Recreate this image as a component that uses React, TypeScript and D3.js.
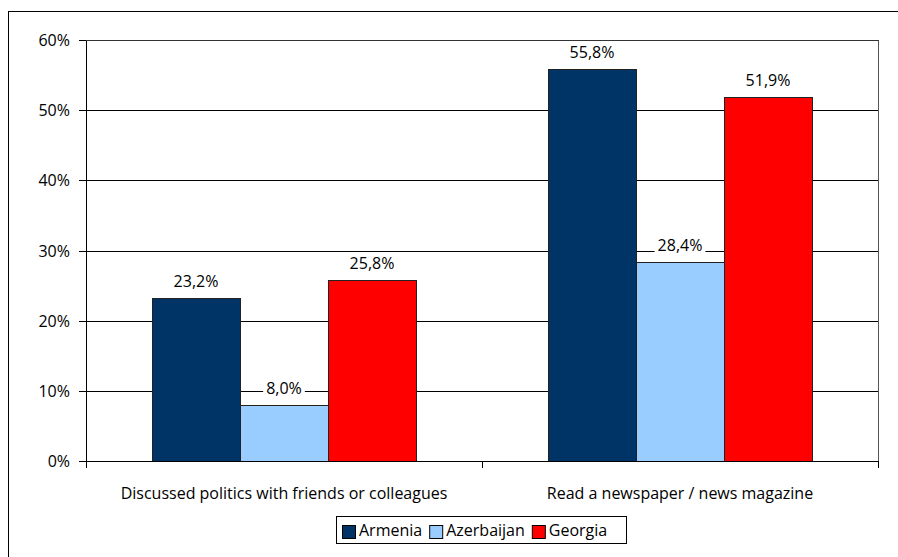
import React, { useEffect, useRef } from 'react';
import * as d3 from 'd3';

const categories = ['Discussed politics with friends or colleagues', 'Read a newspaper / news magazine'];
const seriesNames = ['Armenia', 'Azerbaijan', 'Georgia'];
const seriesColors = ['#003366', '#99ccff', '#ff0000'];
const armenia = [23.2, 55.8];
const azerbaijan = [8.0, 28.4];
const georgia = [25.8, 51.9];
const yTicks = [0, 10, 20, 30, 40, 50, 60];

const App: React.FC = () => {
  const svgRef = useRef<SVGSVGElement>(null);

  useEffect(() => {
    if (!svgRef.current) return;
    const width = 898;
    const height = 557;
    const svg = d3.select(svgRef.current);
    svg.selectAll('*').remove();

    const font = '"Open Sans", Lato, sans-serif';
    const fs = 16;
    const left = 86, right = 878, top = 40, bottom = 461;

    // outer frame
    svg.append('rect')
      .attr('x', 8.5).attr('y', 11.5)
      .attr('width', width).attr('height', height)
      .attr('fill', 'none').attr('stroke', '#000').attr('stroke-width', 1);

    const x0 = d3.scaleBand<string>().domain(categories).range([left, right]).paddingInner(0).paddingOuter(0);
    const y = d3.scaleLinear().domain([0, 60]).range([bottom, top]);

    // gridlines
    svg.append('g').selectAll('line').data(yTicks.filter(t => t > 0)).enter().append('line')
      .attr('x1', left).attr('x2', right)
      .attr('y1', d => Math.round(y(d)) + 0.5).attr('y2', d => Math.round(y(d)) + 0.5)
      .attr('stroke', '#000').attr('stroke-width', 1);

    // plot border right
    svg.append('line')
      .attr('x1', right + 0.5).attr('x2', right + 0.5).attr('y1', top).attr('y2', bottom)
      .attr('stroke', '#555');

    const data = [armenia, azerbaijan, georgia];
    const barW = 88;
    categories.forEach((c, ci) => {
      const center = (x0(c) as number) + x0.bandwidth() / 2;
      const start = center - barW * 1.5;
      data.forEach((s, si) => {
        const v = s[ci];
        const bx = start + si * barW;
        svg.append('rect')
          .attr('x', bx + 0.5).attr('y', Math.round(y(v)) + 0.5)
          .attr('width', barW).attr('height', Math.round(y(0)) - Math.round(y(v)))
          .attr('fill', seriesColors[si]).attr('stroke', '#222').attr('stroke-width', 1);
        const label = d3.format('.1f')(v).replace('.', ',') + '%';
        const lx = bx + barW / 2;
        const ly = y(v) - 11;
        const t = svg.append('text')
          .attr('x', lx).attr('y', ly)
          .attr('text-anchor', 'middle')
          .attr('font-family', font).attr('font-size', fs)
          .attr('fill', '#000')
          .text(label);
        const bb = (t.node() as SVGTextElement).getBBox();
        svg.insert('rect', () => t.node() as any)
          .attr('x', bb.x - 3).attr('y', bb.y + 2).attr('width', bb.width + 6).attr('height', bb.height - 4)
          .attr('fill', '#fff');
      });
    });

    // axes
    svg.append('line')
      .attr('x1', left + 0.5).attr('x2', left + 0.5).attr('y1', top).attr('y2', bottom)
      .attr('stroke', '#000');
    svg.append('line')
      .attr('x1', left).attr('x2', right + 1).attr('y1', bottom + 0.5).attr('y2', bottom + 0.5)
      .attr('stroke', '#000');
    svg.append('line')
      .attr('x1', left).attr('x2', right + 1).attr('y1', top + 0.5).attr('y2', top + 0.5)
      .attr('stroke', '#333');

    const yAxis = svg.append('g');
    yTicks.forEach(t => {
      const yy = Math.round(y(t)) + 0.5;
      yAxis.append('line').attr('x1', left - 7).attr('x2', left).attr('y1', yy).attr('y2', yy).attr('stroke', '#000');
      yAxis.append('text')
        .attr('x', 70).attr('y', yy + 5.5)
        .attr('text-anchor', 'end')
        .attr('font-family', font).attr('font-size', fs)
        .text(`${t}%`);
    });

    // category ticks
    [left, left + x0.bandwidth(), right].forEach(xx => {
      svg.append('line')
        .attr('x1', Math.round(xx) + 0.5).attr('x2', Math.round(xx) + 0.5)
        .attr('y1', bottom).attr('y2', bottom + 7).attr('stroke', '#000');
    });
    categories.forEach(c => {
      svg.append('text')
        .attr('x', (x0(c) as number) + x0.bandwidth() / 2).attr('y', 499)
        .attr('text-anchor', 'middle')
        .attr('font-family', font).attr('font-size', fs)
        .text(c);
    });

    // legend
    const lg = svg.append('g');
    lg.append('rect')
      .attr('x', 336.5).attr('y', 516.5).attr('width', 290).attr('height', 27)
      .attr('fill', '#fff').attr('stroke', '#000');
    let lx = 342;
    seriesNames.forEach((n, i) => {
      lg.append('rect')
        .attr('x', lx + 0.5).attr('y', 525.5).attr('width', 13).attr('height', 13)
        .attr('fill', seriesColors[i]).attr('stroke', '#000');
      const t = lg.append('text')
        .attr('x', lx + 17).attr('y', 536)
        .attr('font-family', font).attr('font-size', fs)
        .text(n);
      const w = (t.node() as SVGTextElement).getComputedTextLength();
      lx += 17 + w + 7;
    });
  }, []);

  return (
    <div style={{ position: 'absolute', left: 0, top: 0 }}>
      <svg ref={svgRef} width={898} height={557} style={{ display: 'block', background: '#fff' }} />
    </div>
  );
};

export default App;
